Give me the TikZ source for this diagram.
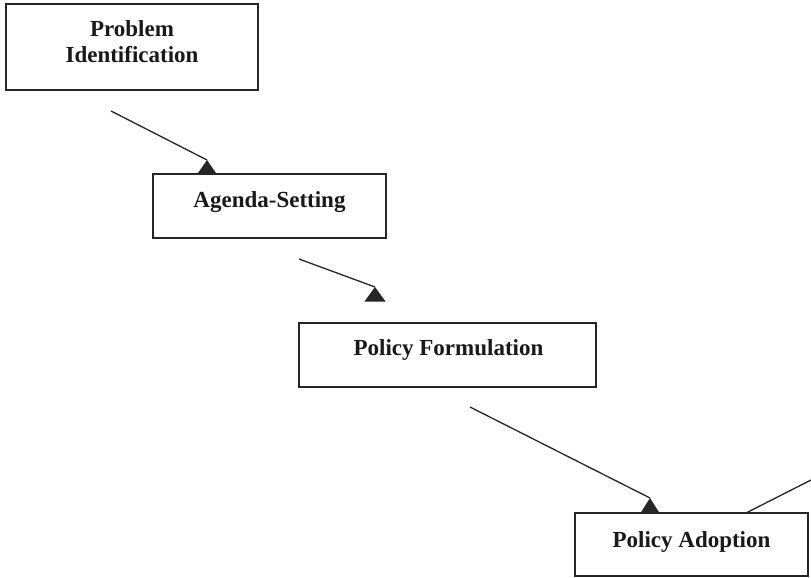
\documentclass[tikz,border=0pt]{standalone}
\usepackage{fontspec}
\setmainfont{Liberation Serif}
\begin{document}
\begin{tikzpicture}[x=1pt,y=-1pt,
  stagebox/.style={draw=black!85, line width=1.4pt, inner sep=0pt},
  lbl/.style={font=\fontsize{23}{26}\selectfont\bfseries, text=black!90, inner sep=0pt, anchor=base},
  conn/.style={draw=black!85, line width=1.3pt},
  tip/.style={fill=black!85}
]
\useasboundingbox (0,0) rectangle (811,578);
\fill[white] (0,0) rectangle (811,578);

% boxes
\node[stagebox, minimum width=252pt, minimum height=86pt] (pi) at (132,47) {};
\node[stagebox, minimum width=233pt, minimum height=64pt] (as) at (269.5,206) {};
\node[stagebox, minimum width=297pt, minimum height=64pt] (pf) at (447.5,355) {};
\node[stagebox, minimum width=233pt, minimum height=63pt] (pa) at (691.5,544.5) {};

% labels
\node[lbl] (pit1) at (132,37) {Problem};
\node[lbl] (pit2) at (132,63) {Identification};
\node[lbl] (ast) at (269.5,207) {Agenda-Setting};
\node[lbl] (pft) at (448.5,355) {Policy Formulation};
\node[lbl] (pat) at (691.5,547) {Policy Adoption};

% connector coordinates
\coordinate (s1) at (111,111);
\coordinate (t1) at (207,160);
\coordinate (s2) at (299,259);
\coordinate (t2) at (375,287);
\coordinate (s3) at (470,407);
\coordinate (t3) at (650,498);
\coordinate (s4) at (746,513);
\coordinate (e4) at (811,480);

\draw[conn] (s1) -- (t1);
\draw[conn] (s2) -- (t2);
\draw[conn] (s3) -- (t3);
\draw[conn] (s4) -- (e4);

% upright triangular arrowheads
\fill[tip] (t1) -- ++(-10,14.5) -- ++(20,0) -- cycle;
\fill[tip] (t2) -- ++(-10.5,14.5) -- ++(21,0) -- cycle;
\fill[tip] (t3) -- ++(-9.5,15) -- ++(19,0) -- cycle;
\end{tikzpicture}
\end{document}
